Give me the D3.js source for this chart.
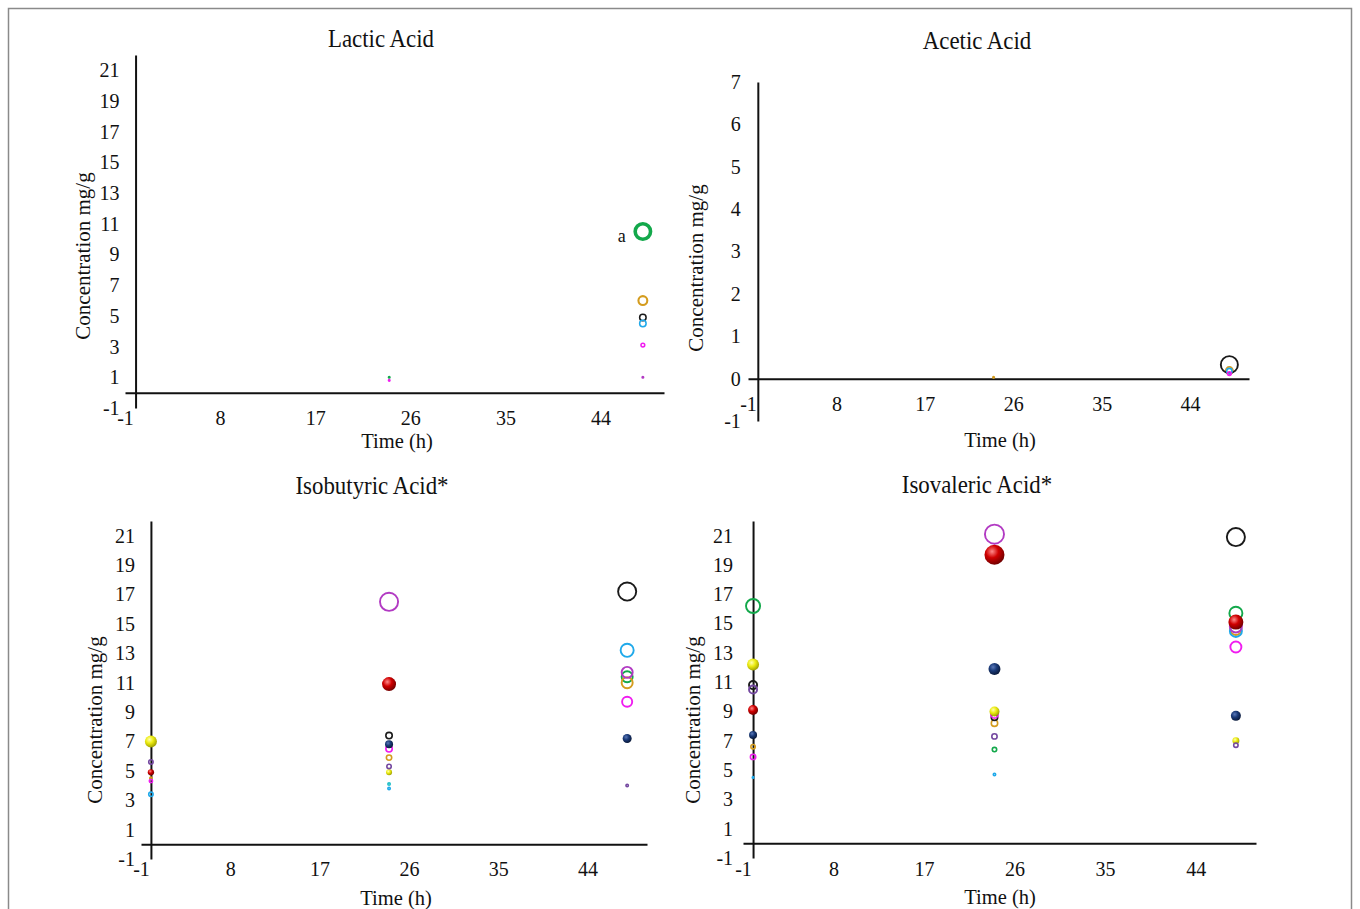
<!DOCTYPE html>
<html><head><meta charset="utf-8">
<script src="https://cdn.jsdelivr.net/npm/d3@7/dist/d3.min.js"></script>
<style>
body{margin:0;background:#fff;}
svg text{font-family:"Liberation Serif","Times New Roman",serif;fill:#111;}
</style>
</head><body>
<svg id="c" width="1360" height="909"></svg>
<script>
// ---------------- DATA ----------------
const times = [0, 24, 48];
const seriesKeys = ["green","goldenrod","black","skyblue","magenta","orchid","red","navy","yellow","purple","teal"];
const xTicks = [-1, 8, 17, 26, 35, 44];
const yTicksWide = [-1, 1, 3, 5, 7, 9, 11, 13, 15, 17, 19, 21];
const yTicksAcetic = [-1, 0, 1, 2, 3, 4, 5, 6, 7];
const panelTitles = ["Lactic Acid", "Acetic Acid", "Isobutyric Acid*", "Isovaleric Acid*"];
const xTitle = "Time (h)";
const yTitle = "Concentration mg/g";
const annotationText = "a";

// concentration at [0 h, 24 h, 48 h] per series (order = seriesKeys)
const lacticConc = [
  [null, 1.0, 10.5], [null, null, 6.0], [null, null, 4.9], [null, null, 4.5],
  [null, 0.8, 3.1], [null, null, 1.0], [null, null, null], [null, null, null],
  [null, null, null], [null, null, null], [null, null, null]];
const lacticBubble = [
  [null, 2, 90], [null, null, 30], [null, null, 16], [null, null, 16],
  [null, 2, 7], [null, null, 1], [null, null, null], [null, null, null],
  [null, null, null], [null, null, null], [null, null, null]];

const aceticConc = [
  [null, null, null], [null, 0.03, 0.19], [null, null, 0.33], [null, null, 0.18],
  [null, null, 0.12], [null, null, null], [null, null, null], [null, null, null],
  [null, null, null], [null, null, null], [null, null, null]];
const aceticBubble = [
  [null, null, null], [null, 2, 20], [null, null, 90], [null, null, 12],
  [null, null, 7], [null, null, null], [null, null, null], [null, null, null],
  [null, null, null], [null, null, null], [null, null, null]];

const isobutyricConc = [
  [null, null, 11.4], [4.5, 5.9, 11.0], [null, 7.4, 17.2], [3.4, 3.8, 13.2],
  [4.3, 6.5, 9.7], [null, 16.5, 11.7], [4.9, 10.9, null], [null, 6.8, 7.2],
  [7.0, 4.9, null], [5.6, 5.3, 4.0], [null, 4.1, null]];
const isobutyricBubble = [
  [null, null, 42], [4, 12, 42], [null, 16, 100], [9, 4, 56],
  [6, 16, 36], [null, 100, 42], [10, 49, null], [null, 16, 20],
  [36, 9, null], [9, 9, 4], [null, 4, null]];

const isovalericConc = [
  [16.2, 6.4, 15.7], [6.6, 8.2, 14.6], [10.8, 8.6, 20.9], [4.5, 4.7, 14.5],
  [5.9, 8.8, 13.4], [null, 21.1, 14.8], [9.1, 19.7, 15.1], [7.4, 11.9, 8.7],
  [12.2, 9.0, 7.0], [10.5, 7.3, 6.7], [null, null, null]];
const isovalericBubble = [
  [64, 9, 56], [9, 16, 42], [25, 16, 100], [2, 4, 49],
  [12, 20, 42], [null, 110, 49], [25, 100, 56], [16, 36, 25],
  [36, 25, 12], [25, 12, 9], [null, null, null]];

// ---------------- STYLE / LAYOUT ----------------
const seriesStyle = {
  green:    {color: "#13a84b", sphere: false},
  goldenrod:{color: "#d49c1e", sphere: false},
  black:    {color: "#1a1a1a", sphere: false},
  skyblue:  {color: "#1fa9ea", sphere: false},
  magenta:  {color: "#f01cf0", sphere: false},
  orchid:   {color: "#b23ac3", sphere: false},
  red:      {color: "#d00000", sphere: true, light: "#ff8a8a", dark: "#6a0000"},
  navy:     {color: "#1a3a78", sphere: true, light: "#5a78b8", dark: "#081634"},
  yellow:   {color: "#ecec10", sphere: true, light: "#ffffb0", dark: "#9a9a00"},
  purple:   {color: "#7448a0", sphere: false},
  teal:     {color: "#22c0c8", sphere: false}
};

const panels = [
  {title: panelTitles[0], conc: lacticConc, bubble: lacticBubble, yTicks: yTicksWide, yMax: 22,
   x0: 125, x1: 664, yBot: 408, yTop: 55, yLabPad: 16, thick: true,
   titleX: 381, titleY: 47, xtX: 397, xtY: 448, ytX: 90, ytY: 256},
  {title: panelTitles[1], conc: aceticConc, bubble: aceticBubble, yTicks: yTicksAcetic, yMax: 7,
   x0: 748, x1: 1249, yBot: 421, yTop: 82, yLabPad: 17, thick: false,
   titleX: 977, titleY: 49, xtX: 1000, xtY: 447, ytX: 703, ytY: 268},
  {title: panelTitles[2], conc: isobutyricConc, bubble: isobutyricBubble, yTicks: yTicksWide, yMax: 22,
   x0: 141, x1: 647, yBot: 859, yTop: 521, yLabPad: 16, thick: false,
   titleX: 372, titleY: 494, xtX: 396, xtY: 905, ytX: 102, ytY: 720},
  {title: panelTitles[3], conc: isovalericConc, bubble: isovalericBubble, yTicks: yTicksWide, yMax: 22,
   x0: 743, x1: 1256, yBot: 858, yTop: 521, yLabPad: 20, thick: false,
   titleX: 977, titleY: 493, xtX: 1000, xtY: 904, ytX: 700, ytY: 720}
];

const svg = d3.select("#c");
svg.append("rect").attr("x", 8.5).attr("y", 8.5).attr("width", 1343).attr("height", 930)
  .attr("fill", "none").attr("stroke", "#8a8a8a").attr("stroke-width", 1.5);

// gradients for 3D spheres
const defs = svg.append("defs");
seriesKeys.forEach(k => {
  const s = seriesStyle[k];
  if (!s.sphere) return;
  const g = defs.append("radialGradient").attr("id", "grad-" + k)
    .attr("cx", "38%").attr("cy", "34%").attr("r", "70%");
  g.append("stop").attr("offset", "0%").attr("stop-color", s.light);
  g.append("stop").attr("offset", "45%").attr("stop-color", s.color);
  g.append("stop").attr("offset", "100%").attr("stop-color", s.dark);
});

const rScale = d3.scaleSqrt().domain([0, 100]).range([0, 10]);

function addText(g, str, x, y, size, opts = {}) {
  const sx = opts.sx || 1;
  return g.append("text")
    .attr("transform", `translate(${x},${y})` + (opts.rot ? ` rotate(${opts.rot})` : "") + ` scale(${sx},1)`)
    .attr("text-anchor", opts.anchor || "middle")
    .style("font-size", size + "px")
    .text(str);
}

const fmt = d => String(d);

panels.forEach((p, pi) => {
  const x = d3.scaleLinear().domain([-1, 50]).range([p.x0, p.x1]);
  const y = d3.scaleLinear().domain([-1, p.yMax]).range([p.yBot, p.yTop]);
  const g = svg.append("g");

  // titles
  addText(g, p.title, p.titleX, p.titleY, 26, {sx: 0.88});
  addText(g, xTitle, p.xtX, p.xtY, 20.5);
  addText(g, yTitle, p.ytX, p.ytY, 21, {rot: -90});

  // y axis at x = 0
  const ya = g.append("g").attr("transform", `translate(${x(0)},0)`)
    .call(d3.axisLeft(y).tickValues(p.yTicks).tickFormat(fmt)
      .tickSizeInner(0).tickSizeOuter(0).tickPadding(p.yLabPad));
  ya.attr("font-family", null).attr("font-size", null);
  ya.select(".domain").attr("stroke", "#111").attr("stroke-width", 2);
  ya.selectAll("text").style("font-size", "20px").attr("fill", "#111");

  // x axis at y = 0
  const xa = g.append("g").attr("transform", `translate(0,${y(0)})`)
    .call(d3.axisBottom(x).tickValues(xTicks).tickFormat(fmt)
      .tickSizeInner(0).tickSizeOuter(0).tickPadding(18));
  xa.attr("font-family", null).attr("font-size", null);
  xa.select(".domain").attr("stroke", "#111").attr("stroke-width", 2);
  xa.selectAll("text").style("font-size", "20px").attr("fill", "#111");

  // bubbles
  const pts = [];
  seriesKeys.forEach((k, si) => {
    times.forEach((t, ti) => {
      const v = p.conc[si][ti];
      if (v === null || v === undefined) return;
      pts.push({key: k, t: t, v: v, w: p.bubble[si][ti]});
    });
  });
  const sw = d => {
    const r = rScale(d.w);
    if (p.thick) return Math.max(1.5, r * 0.38);
    return r >= 5 ? 1.9 : 1.6;
  };
  g.selectAll("circle.pt").data(pts).enter().append("circle")
    .attr("class", "pt")
    .attr("cx", d => x(d.t))
    .attr("cy", d => y(d.v))
    .attr("r", d => {
      const r = rScale(d.w);
      return seriesStyle[d.key].sphere ? r : Math.max(0.8, r - sw(d) / 2);
    })
    .attr("fill", d => seriesStyle[d.key].sphere ? `url(#grad-${d.key})` : "none")
    .attr("stroke", d => seriesStyle[d.key].sphere ? "none" : seriesStyle[d.key].color)
    .attr("stroke-width", sw);

  if (pi === 0) {
    addText(g, annotationText, x(48) - 21, y(10.5) + 10, 18);
  }
});
</script>
</body></html>
